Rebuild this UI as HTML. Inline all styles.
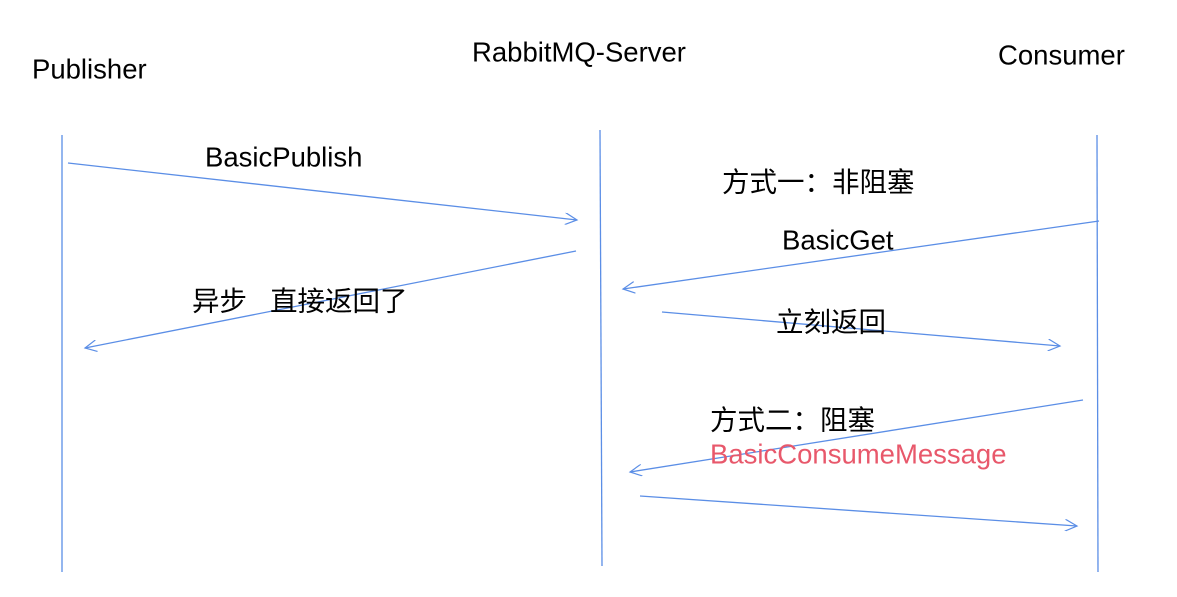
<!DOCTYPE html>
<html><head><meta charset="utf-8"><style>
html,body{margin:0;padding:0;background:#fff;width:1177px;height:597px;overflow:hidden}
svg text{font-family:"Liberation Sans","Noto Sans CJK SC",sans-serif;font-size:27.5px;fill:#000;dominant-baseline:central}
</style></head><body>
<svg width="1177" height="597" xmlns="http://www.w3.org/2000/svg">
<defs>
<marker id="a" markerWidth="14" markerHeight="12" refX="12" refY="6" orient="auto" markerUnits="userSpaceOnUse">
<path d="M0,0 L12,6 L0,12" fill="none" stroke="#5b8ee6" stroke-width="1.2"/>
</marker>
</defs>
<g stroke="#5b8ee6" stroke-width="1.3" fill="none">
<line x1="62" y1="135" x2="62" y2="572"/>
<line x1="600" y1="130" x2="602" y2="566"/>
<line x1="1097" y1="135" x2="1098" y2="572"/>
<line x1="68" y1="163" x2="577" y2="220" marker-end="url(#a)"/>
<line x1="576" y1="251" x2="85" y2="348" marker-end="url(#a)"/>
<line x1="1099" y1="221" x2="623" y2="289" marker-end="url(#a)"/>
<line x1="662" y1="312" x2="1060" y2="346" marker-end="url(#a)"/>
<line x1="1083" y1="400" x2="630" y2="472" marker-end="url(#a)"/>
<line x1="640" y1="496" x2="1077" y2="526" marker-end="url(#a)"/>
</g>
<text x="32" y="69">Publisher</text>
<text x="472" y="52">RabbitMQ-Server</text>
<text x="998" y="55">Consumer</text>
<text x="205" y="157">BasicPublish</text>
<text x="722" y="182">方式一：非阻塞</text>
<text x="782" y="240">BasicGet</text>
<text x="192" y="301">异步</text>
<text x="270" y="301">直接返回了</text>
<text x="776" y="322">立刻返回</text>
<text x="710" y="420">方式二：阻塞</text>
<text x="710" y="454" style="fill:#e8586b">BasicConsumeMessage</text>
</svg>
</body></html>
